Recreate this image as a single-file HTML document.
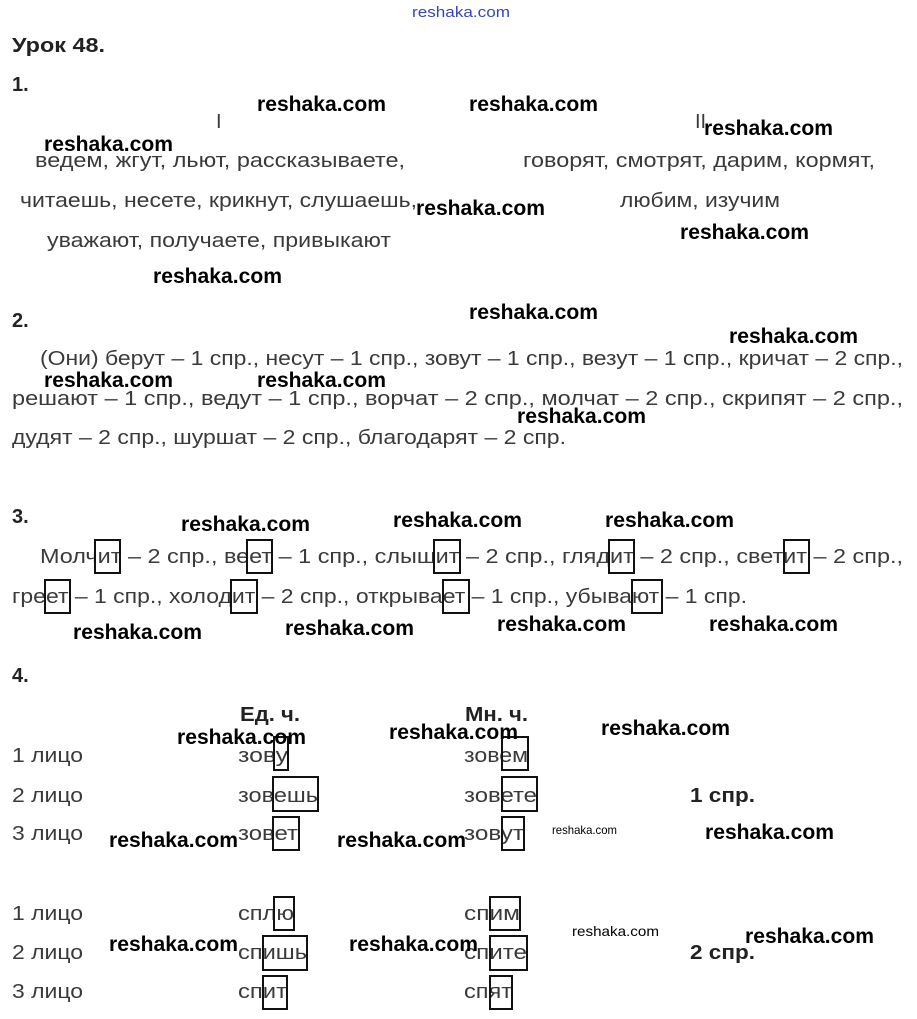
<!DOCTYPE html>
<html><head><meta charset="utf-8"><style>
html,body{margin:0;padding:0;background:#fff;width:917px;height:1019px;overflow:hidden}
svg{display:block}
.t{font-family:"Liberation Sans",sans-serif;font-size:20px;fill:#3a3a3a}
.b{font-family:"Liberation Sans",sans-serif;font-size:20px;font-weight:bold;fill:#222}
.w{font-family:"Liberation Sans",sans-serif;font-size:21px;font-weight:bold;fill:#000}
.s{font-family:"Liberation Sans",sans-serif;font-size:12px;fill:#000}
rect{fill:none;stroke:#111;stroke-width:2}
</style></head><body>
<svg width="917" height="1019" xmlns="http://www.w3.org/2000/svg">
<text x="412" y="17" style="font-family:'Liberation Sans',sans-serif;font-size:15px;fill:#3344cc" textLength="98" lengthAdjust="spacingAndGlyphs">reshaka.com</text>
<text class="b" x="12" y="52" textLength="93" lengthAdjust="spacingAndGlyphs">Урок 48.</text>
<text class="b" x="12" y="91">1.</text>
<text class="t" x="216" y="128">I</text>
<text class="t" x="695" y="128">II</text>
<text class="t" x="35" y="167" textLength="370" lengthAdjust="spacingAndGlyphs">ведем, жгут, льют, рассказываете,</text>
<text class="t" x="523" y="167" textLength="352" lengthAdjust="spacingAndGlyphs">говорят, смотрят, дарим, кормят,</text>
<text class="t" x="20" y="207" textLength="397" lengthAdjust="spacingAndGlyphs">читаешь, несете, крикнут, слушаешь,</text>
<text class="t" x="620" y="207" textLength="160" lengthAdjust="spacingAndGlyphs">любим, изучим</text>
<text class="t" x="47" y="247" textLength="344" lengthAdjust="spacingAndGlyphs">уважают, получаете, привыкают</text>
<text class="b" x="12" y="327">2.</text>
<text class="t" x="40" y="365" textLength="863" lengthAdjust="spacingAndGlyphs">(Они) берут – 1 спр., несут – 1 спр., зовут – 1 спр., везут – 1 спр., кричат – 2 спр.,</text>
<text class="t" x="12" y="405" textLength="891" lengthAdjust="spacingAndGlyphs">решают – 1 спр., ведут – 1 спр., ворчат – 2 спр., молчат – 2 спр., скрипят – 2 спр.,</text>
<text class="t" x="12" y="444" textLength="554" lengthAdjust="spacingAndGlyphs">дудят – 2 спр., шуршат – 2 спр., благодарят – 2 спр.</text>
<text class="b" x="12" y="523">3.</text>
<text class="t" x="40" y="563" textLength="863" lengthAdjust="spacingAndGlyphs">Молчит – 2 спр., веет – 1 спр., слышит – 2 спр., глядит – 2 спр., светит – 2 спр.,</text>
<text class="t" x="12" y="603" textLength="735" lengthAdjust="spacingAndGlyphs">греет – 1 спр., холодит – 2 спр., открывает – 1 спр., убывают – 1 спр.</text>
<rect x="95" y="540" width="25" height="33"/><rect x="247" y="540" width="25" height="33"/>
<rect x="434" y="540" width="26" height="33"/><rect x="609" y="540" width="25" height="33"/>
<rect x="784" y="540" width="25" height="33"/>
<rect x="45" y="580" width="25" height="33"/><rect x="231" y="580" width="26" height="33"/>
<rect x="443" y="580" width="26" height="33"/><rect x="632" y="580" width="30" height="33"/>
<text class="b" x="12" y="682">4.</text>
<text class="b" x="240" y="721" textLength="60" lengthAdjust="spacingAndGlyphs">Ед. ч.</text>
<text class="b" x="465" y="721" textLength="63" lengthAdjust="spacingAndGlyphs">Мн. ч.</text>
<g class="t">
<text x="12" y="762" textLength="71" lengthAdjust="spacingAndGlyphs">1 лицо</text>
<text x="12" y="802" textLength="71" lengthAdjust="spacingAndGlyphs">2 лицо</text>
<text x="12" y="840" textLength="71" lengthAdjust="spacingAndGlyphs">3 лицо</text>
<text x="12" y="920" textLength="71" lengthAdjust="spacingAndGlyphs">1 лицо</text>
<text x="12" y="959" textLength="71" lengthAdjust="spacingAndGlyphs">2 лицо</text>
<text x="12" y="998" textLength="71" lengthAdjust="spacingAndGlyphs">3 лицо</text>
<text x="238" y="762" textLength="50" lengthAdjust="spacingAndGlyphs">зову</text>
<text x="238" y="802" textLength="80" lengthAdjust="spacingAndGlyphs">зовешь</text>
<text x="238" y="840" textLength="60" lengthAdjust="spacingAndGlyphs">зовет</text>
<text x="238" y="920" textLength="56" lengthAdjust="spacingAndGlyphs">сплю</text>
<text x="238" y="959" textLength="69" lengthAdjust="spacingAndGlyphs">спишь</text>
<text x="238" y="998" textLength="49" lengthAdjust="spacingAndGlyphs">спит</text>
<text x="464" y="762" textLength="64" lengthAdjust="spacingAndGlyphs">зовем</text>
<text x="464" y="802" textLength="73" lengthAdjust="spacingAndGlyphs">зовете</text>
<text x="464" y="840" textLength="60" lengthAdjust="spacingAndGlyphs">зовут</text>
<text x="464" y="920" textLength="56" lengthAdjust="spacingAndGlyphs">спим</text>
<text x="464" y="959" textLength="63" lengthAdjust="spacingAndGlyphs">спите</text>
<text x="464" y="998" textLength="48" lengthAdjust="spacingAndGlyphs">спят</text>
</g>
<rect x="274" y="737" width="14" height="33"/><rect x="273" y="777" width="45" height="34"/><rect x="273" y="817" width="26" height="33"/>
<rect x="502" y="737" width="26" height="33"/><rect x="502" y="777" width="35" height="34"/><rect x="502" y="817" width="22" height="33"/>
<rect x="274" y="897" width="20" height="33"/><rect x="263" y="936" width="44" height="34"/><rect x="263" y="976" width="24" height="33"/>
<rect x="490" y="897" width="30" height="33"/><rect x="490" y="936" width="37" height="34"/><rect x="490" y="976" width="22" height="33"/>
<text class="b" x="690" y="802" textLength="65" lengthAdjust="spacingAndGlyphs">1 спр.</text>
<text class="b" x="690" y="959" textLength="65" lengthAdjust="spacingAndGlyphs">2 спр.</text>
<g class="w">
<text x="257" y="111" textLength="129" lengthAdjust="spacingAndGlyphs">reshaka.com</text>
<text x="469" y="111" textLength="129" lengthAdjust="spacingAndGlyphs">reshaka.com</text>
<text x="704" y="135" textLength="129" lengthAdjust="spacingAndGlyphs">reshaka.com</text>
<text x="44" y="151" textLength="129" lengthAdjust="spacingAndGlyphs">reshaka.com</text>
<text x="416" y="215" textLength="129" lengthAdjust="spacingAndGlyphs">reshaka.com</text>
<text x="680" y="239" textLength="129" lengthAdjust="spacingAndGlyphs">reshaka.com</text>
<text x="153" y="283" textLength="129" lengthAdjust="spacingAndGlyphs">reshaka.com</text>
<text x="469" y="319" textLength="129" lengthAdjust="spacingAndGlyphs">reshaka.com</text>
<text x="729" y="343" textLength="129" lengthAdjust="spacingAndGlyphs">reshaka.com</text>
<text x="44" y="387" textLength="129" lengthAdjust="spacingAndGlyphs">reshaka.com</text>
<text x="257" y="387" textLength="129" lengthAdjust="spacingAndGlyphs">reshaka.com</text>
<text x="517" y="423" textLength="129" lengthAdjust="spacingAndGlyphs">reshaka.com</text>
<text x="181" y="531" textLength="129" lengthAdjust="spacingAndGlyphs">reshaka.com</text>
<text x="393" y="527" textLength="129" lengthAdjust="spacingAndGlyphs">reshaka.com</text>
<text x="605" y="527" textLength="129" lengthAdjust="spacingAndGlyphs">reshaka.com</text>
<text x="73" y="639" textLength="129" lengthAdjust="spacingAndGlyphs">reshaka.com</text>
<text x="285" y="635" textLength="129" lengthAdjust="spacingAndGlyphs">reshaka.com</text>
<text x="497" y="631" textLength="129" lengthAdjust="spacingAndGlyphs">reshaka.com</text>
<text x="709" y="631" textLength="129" lengthAdjust="spacingAndGlyphs">reshaka.com</text>
<text x="601" y="735" textLength="129" lengthAdjust="spacingAndGlyphs">reshaka.com</text>
<text x="177" y="744" textLength="129" lengthAdjust="spacingAndGlyphs">reshaka.com</text>
<text x="389" y="739" textLength="129" lengthAdjust="spacingAndGlyphs">reshaka.com</text>
<text x="109" y="847" textLength="129" lengthAdjust="spacingAndGlyphs">reshaka.com</text>
<text x="337" y="847" textLength="129" lengthAdjust="spacingAndGlyphs">reshaka.com</text>
<text x="705" y="839" textLength="129" lengthAdjust="spacingAndGlyphs">reshaka.com</text>
<text x="109" y="951" textLength="129" lengthAdjust="spacingAndGlyphs">reshaka.com</text>
<text x="349" y="951" textLength="129" lengthAdjust="spacingAndGlyphs">reshaka.com</text>
<text x="745" y="943" textLength="129" lengthAdjust="spacingAndGlyphs">reshaka.com</text>
</g>
<text class="s" x="552" y="834" textLength="65" lengthAdjust="spacingAndGlyphs">reshaka.com</text>
<text class="s" x="572" y="936" textLength="87" lengthAdjust="spacingAndGlyphs" style="font-size:14px">reshaka.com</text>
</svg>
</body></html>
